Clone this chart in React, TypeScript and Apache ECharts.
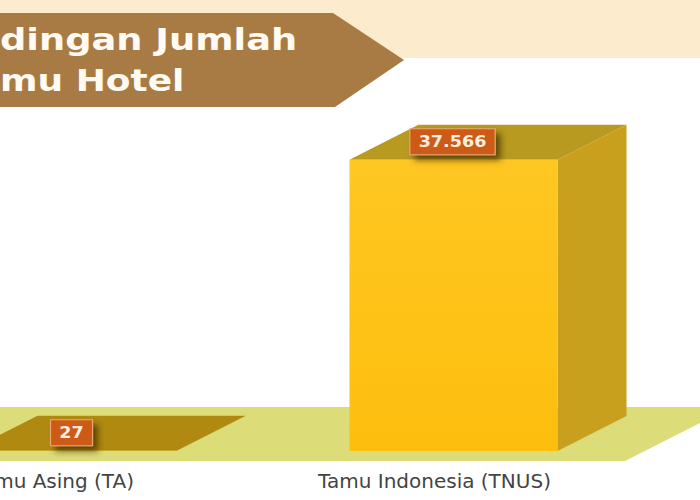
import React, { useEffect, useRef } from "react";
import * as echarts from "echarts";

const categories = ["Tamu Asing (TA)", "Tamu Indonesia (TNUS)"];
const guestCounts = [27, 37566];
const titleLines = ["dingan Jumlah", "mu Hotel"];

const BAND_RATIO = 0.546;
const DX = 69;
const DY = 35;

const formatId = (v: number) => String(v).replace(/\B(?=(\d{3})+(?!\d))/g, ".");

function renderBar(params: any, api: any) {
  const idx = api.value(0);
  const val = api.value(1);
  const base = api.coord([idx, 0]);
  const top = api.coord([idx, val]);
  const w = api.size([1, 0])[0] * BAND_RATIO;
  const l = base[0] - w / 2;
  const r = base[0] + w / 2;
  const yb = base[1];
  const yt = top[1];
  const topColor = idx === 0 ? "#b08a10" : "#b89a20";
  return {
    type: "group",
    children: [
      {
        type: "polygon",
        shape: { points: [[r, yb], [r + DX, yb - DY], [r + DX, yt - DY], [r, yt]] },
        style: { fill: "#c9a01e" },
      },
      {
        type: "polygon",
        shape: { points: [[l, yt], [l + DX, yt - DY], [r + DX, yt - DY], [r, yt]] },
        style: { fill: topColor },
      },
      {
        type: "rect",
        shape: { x: l, y: yt, width: w, height: yb - yt },
        style: {
          fill: new echarts.graphic.LinearGradient(0, 0, 0, 1, [
            { offset: 0, color: "#ffc722" },
            { offset: 1, color: "#fdbe0e" },
          ]),
        },
      },
      {
        type: "text",
        x: base[0] - 1,
        y: yt - 18,
        scaleX: 1.17,
        style: {
          text: formatId(val),
          font: "bold 15px 'DejaVu Sans'",
          fill: "#fdeee0",
          align: "center",
          verticalAlign: "middle",
          backgroundColor: "#cd5a14",
          borderColor: "#e6a873",
          borderWidth: 1,
          padding: [5, 7, 5, 7],
          shadowColor: "rgba(60,40,0,0.7)",
          shadowBlur: 6,
          shadowOffsetX: 5,
          shadowOffsetY: 5,
        },
      },
    ],
  };
}

export default function App() {
  const ref = useRef<HTMLDivElement>(null);
  useEffect(() => {
    if (!ref.current) return;
    const chart = echarts.init(ref.current, undefined, { renderer: "svg" });
    chart.setOption({
      animation: false,
      backgroundColor: "#ffffff",
      grid: { left: -118, width: 762, top: 141, height: 310, outerBoundsMode: "none", containLabel: false },
      xAxis: {
        type: "category",
        data: categories,
        axisLine: { show: false },
        axisTick: { show: false },
        splitLine: { show: false },
        axisLabel: {
          interval: 0,
          margin: 20,
          fontFamily: "DejaVu Sans",
          fontSize: 20,
          color: "#444444",
          padding: [0, 38, 0, 0],
        },
      },
      yAxis: { type: "value", min: 0, max: 40000, show: false },
      graphic: [
        { type: "rect", z: 0, shape: { x: 0, y: 0, width: 700, height: 58 }, style: { fill: "#fdebcd" } },
        {
          type: "polygon",
          z: 1,
          shape: { points: [[0, 13], [333, 13], [404, 60], [335, 107], [0, 107]] },
          style: { fill: "#a87a44" },
        },
        {
          type: "text",
          z: 2,
          x: 0,
          y: 40,
          scaleX: 1.227,
          style: { text: titleLines[0], font: "bold 30px 'DejaVu Sans'", fill: "#fffaf2", verticalAlign: "middle" },
        },
        {
          type: "text",
          z: 2,
          x: 0,
          y: 81,
          scaleX: 1.2,
          style: { text: titleLines[1], font: "bold 30px 'DejaVu Sans'", fill: "#fffaf2", verticalAlign: "middle" },
        },
        {
          type: "polygon",
          z: 0,
          shape: { points: [[0, 407], [700, 407], [700, 423], [625, 461], [0, 461]] },
          style: { fill: "#dcdc78" },
        },
      ],
      series: [
        {
          type: "custom",
          clip: false,
          renderItem: renderBar,
          data: guestCounts.map((v, i) => [i, v]),
          encode: { x: 0, y: 1 },
        },
      ],
    });
    return () => chart.dispose();
  }, []);
  return <div ref={ref} style={{ position: "fixed", left: 0, top: 0, width: 700, height: 500 }} />;
}
